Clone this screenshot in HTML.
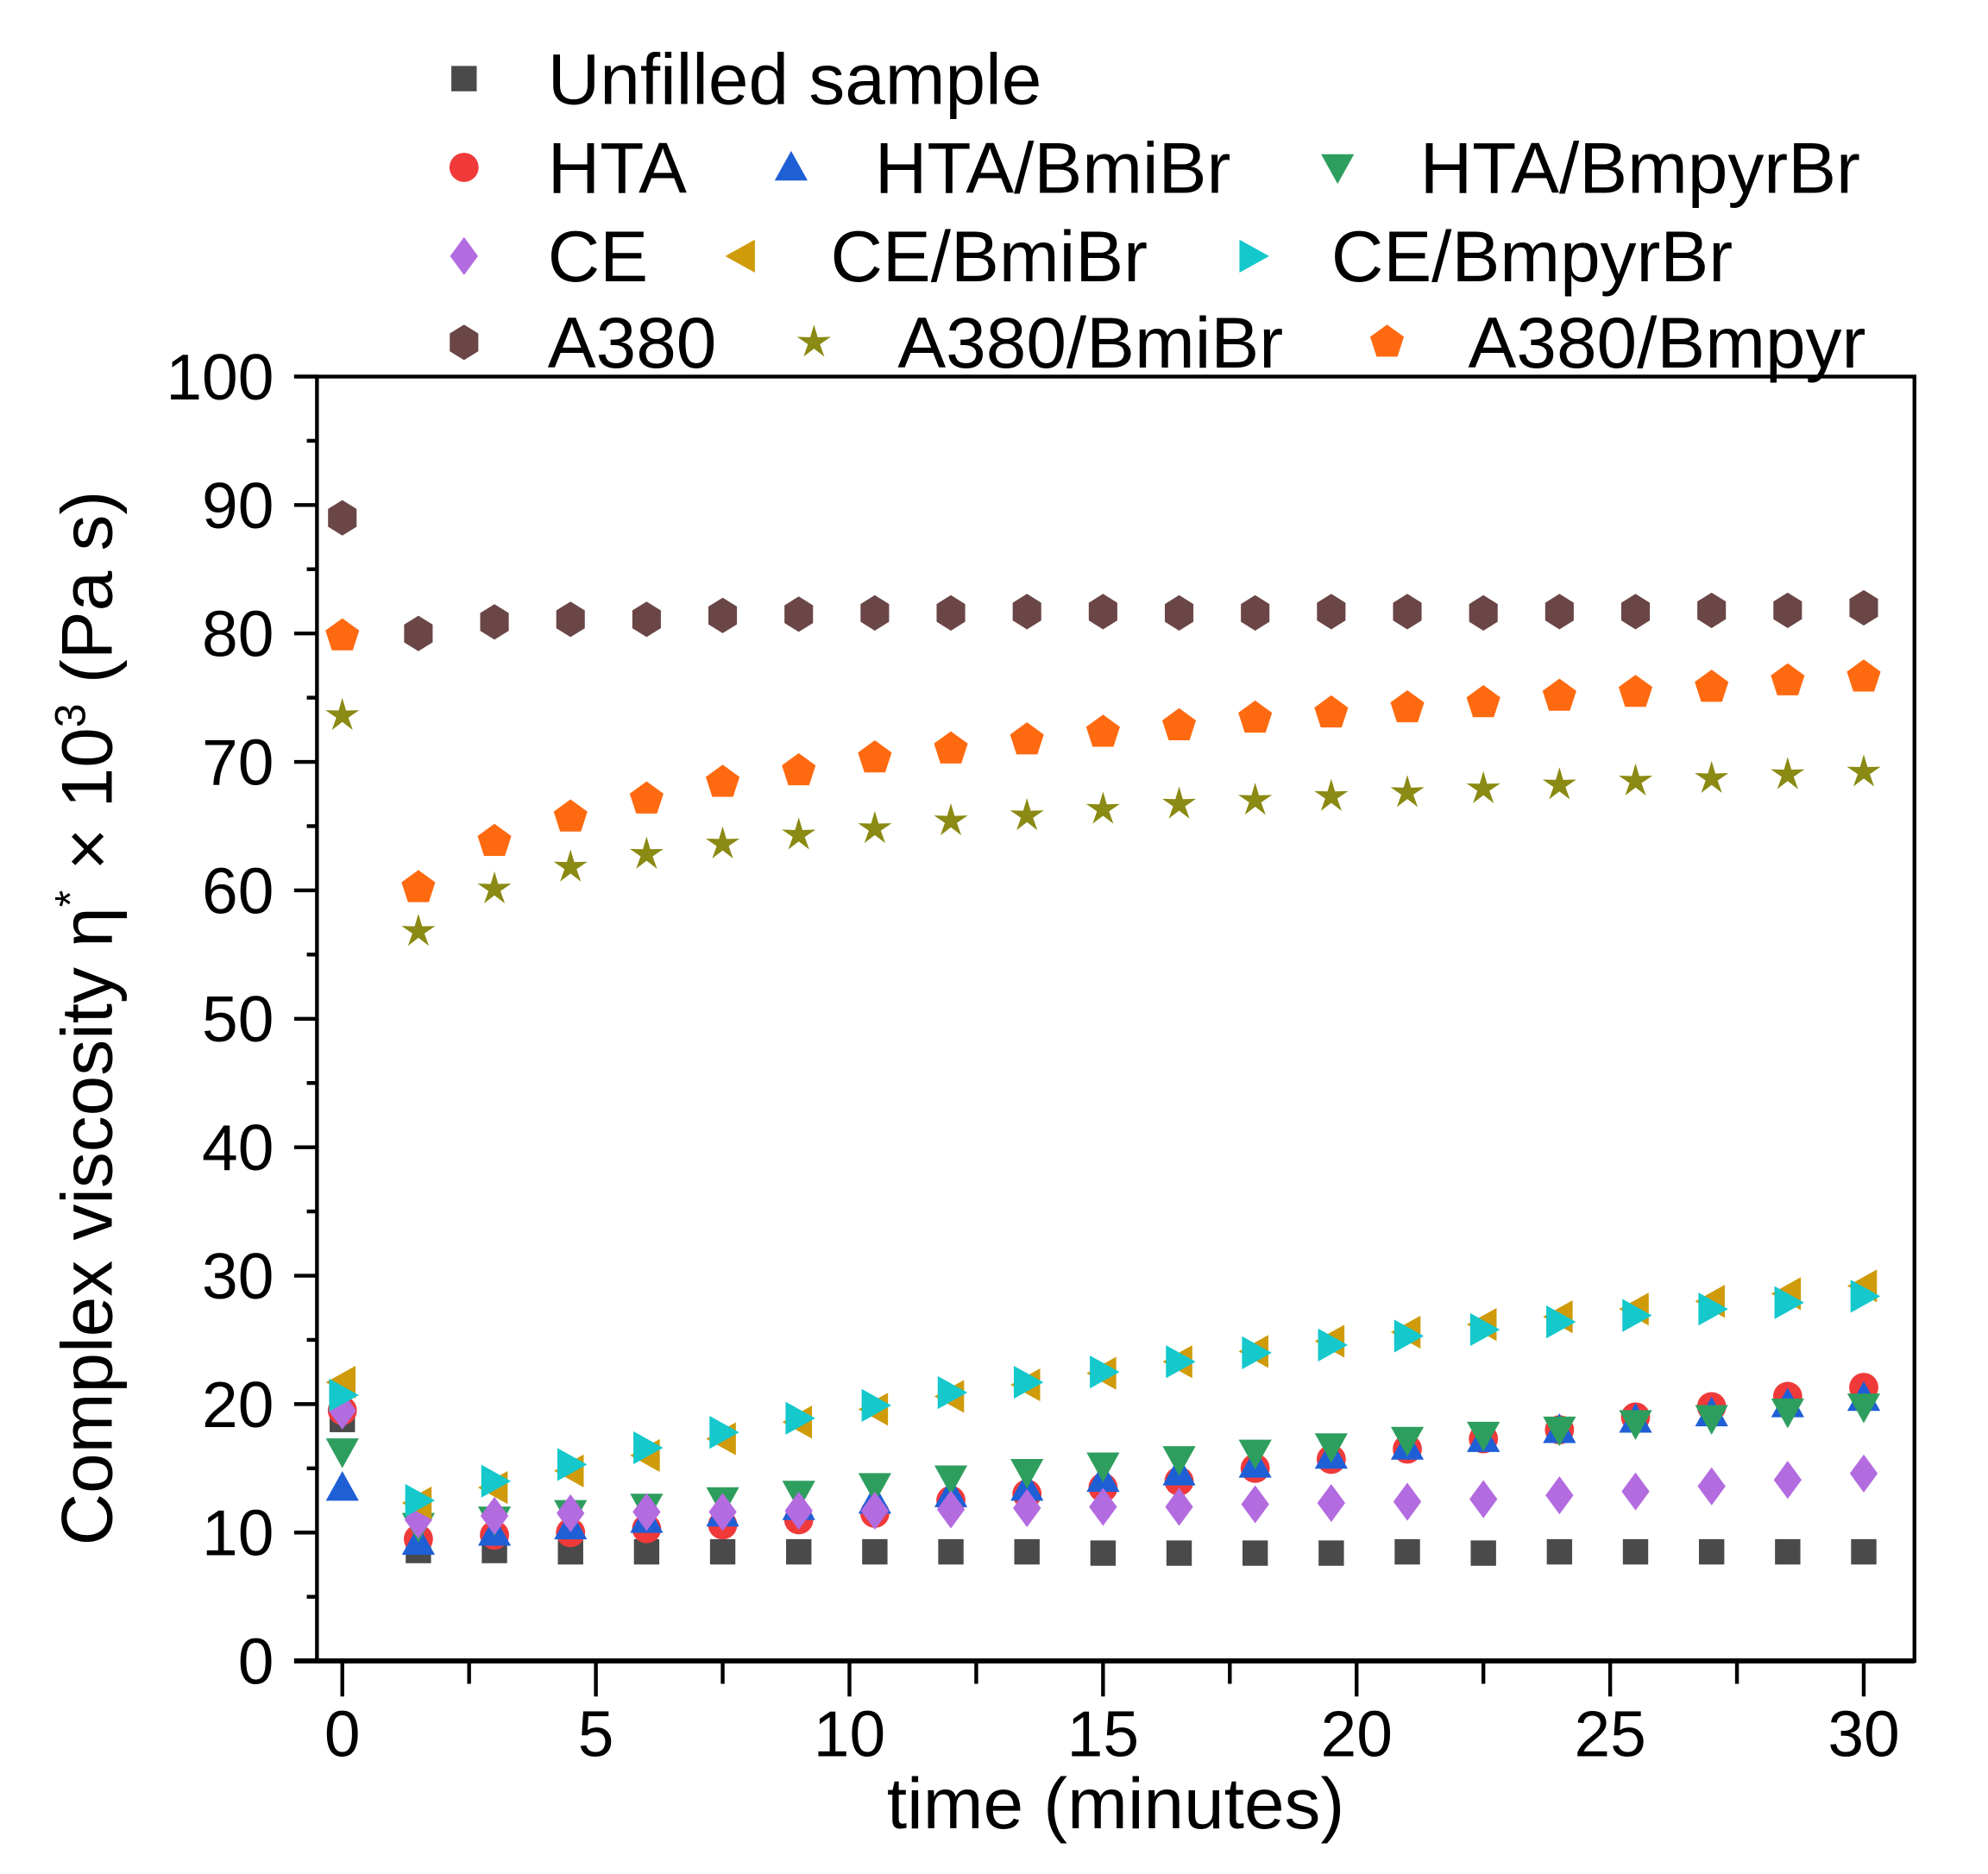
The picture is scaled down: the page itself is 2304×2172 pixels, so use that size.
<!DOCTYPE html>
<html><head><meta charset="utf-8">
<style>
html,body{margin:0;padding:0;background:#fff;}
svg{display:block;font-family:"Liberation Sans",Arial,sans-serif;}
</style></head>
<body>
<svg id="chart" width="2304" height="2172" viewBox="0 0 1568 1478" preserveAspectRatio="none" xmlns="http://www.w3.org/2000/svg">
<g id="axes"></g>
<g id="marks"></g>
<g id="legend"></g>
<text transform="translate(88,803) rotate(-90)" text-anchor="middle" font-size="57" fill="#000">Complex viscosity η<tspan dy="-21" font-size="34">*</tspan><tspan dy="21"> × 10</tspan><tspan dy="-21" font-size="34">3</tspan><tspan dy="21"> (Pa s)</tspan></text>
<text x="880" y="1442" text-anchor="middle" font-size="57" fill="#000">time (minutes)</text>
</svg>
<script>
const times = [0,1.5,3,4.5,6,7.5,9,10.5,12,13.5,15,16.5,18,19.5,21,22.5,24,25.5,27,28.5,30];
const xTicks = [0,5,10,15,20,25,30];
const yTicks = [0,10,20,30,40,50,60,70,80,90,100];
const unfilled = [18.8,8.6,8.6,8.5,8.5,8.5,8.5,8.5,8.5,8.5,8.4,8.4,8.4,8.4,8.5,8.4,8.5,8.5,8.5,8.5,8.5];
const hta = [19.5,9.5,9.8,10,10.3,10.6,11,11.5,12.5,13,13.5,14,15,15.7,16.5,17.3,18,19,19.8,20.6,21.3];
const htaBmi = [13.5,9.3,10,10.5,11,11.5,12,12.5,13,13.5,14.2,14.7,15.3,16,16.7,17.3,18,18.8,19.3,20,20.5];
const htaBmpyr = [16.3,10.5,11,11.5,12,12.5,13,13.6,14.2,14.7,15.2,15.7,16.2,16.7,17.2,17.6,18,18.5,18.9,19.4,19.8];
const ce = [19.5,11,11.3,11.5,11.6,11.6,11.7,11.7,11.8,11.9,12,12,12.2,12.3,12.4,12.6,12.9,13.2,13.6,14.1,14.6];
const ceBmi = [21.7,12.3,13.5,14.8,16,17.3,18.6,19.6,20.6,21.5,22.4,23.3,24.1,24.9,25.6,26.2,26.8,27.4,28,28.6,29.2];
const ceBmpyr = [20.7,12.5,14,15.3,16.6,17.8,18.9,19.9,20.9,21.7,22.5,23.3,24,24.6,25.3,25.8,26.4,26.9,27.4,27.9,28.4];
const a380 = [89,80,80.9,81.1,81.1,81.4,81.5,81.6,81.6,81.7,81.7,81.6,81.6,81.7,81.7,81.6,81.7,81.7,81.8,81.8,82];
const a380Bmi = [73.6,56.8,60.1,61.8,62.8,63.6,64.3,64.8,65.4,65.8,66.3,66.7,67,67.3,67.6,67.9,68.2,68.5,68.7,69,69.2];
const a380Bmpyr = [79.8,60.2,63.8,65.7,67.1,68.4,69.3,70.3,71,71.7,72.3,72.8,73.4,73.8,74.2,74.6,75.1,75.4,75.8,76.3,76.6];

const NS="http://www.w3.org/2000/svg";
const X0=250,X1=1510,Y0=297,Y1=1310;
const xs=t=>270+t*40;
const ys=v=>Y1-(v/100)*(Y1-Y0);
function mk(tag,attrs,parent){const e=document.createElementNS(NS,tag);for(const k in attrs)e.setAttribute(k,attrs[k]);parent.appendChild(e);return e;}
const axes=document.getElementById('axes');
let frame=mk('rect',{x:X0,y:Y0,width:X1-X0,height:Y1-Y0,fill:'none',stroke:'#000','stroke-width':3},axes);


mk('line',{x1:232,x2:X1,y1:Y1,y2:Y1,stroke:'#000','stroke-width':4},axes);
mk('line',{x1:232,x2:X0,y1:Y0,y2:Y0,stroke:'#000','stroke-width':3},axes);
yTicks.forEach(v=>{
  mk('line',{x1:232,x2:X0,y1:ys(v),y2:ys(v),stroke:'#000','stroke-width':3},axes);
  const t=mk('text',{x:216,y:ys(v)+18,'text-anchor':'end','font-size':51,fill:'#000'},axes);
  t.textContent=v;
  
  
  if(v<100) mk('line',{x1:242,x2:X0,y1:ys(v+5),y2:ys(v+5),stroke:'#000','stroke-width':3},axes);
});
xTicks.forEach(v=>{
  mk('line',{x1:xs(v),x2:xs(v),y1:Y1,y2:Y1+28,stroke:'#000','stroke-width':3},axes);
  if(v<30) mk('line',{x1:xs(v+2.5),x2:xs(v+2.5),y1:Y1,y2:Y1+18,stroke:'#000','stroke-width':3},axes);
  const t=mk('text',{x:xs(v),y:1385,'text-anchor':'middle','font-size':51,fill:'#000'},axes);
  t.textContent=v;
  
  
});

function shape(type,cx,cy,col,parent){
  const r=13;let e;
  if(type==='square') e=mk('rect',{x:cx-10,y:cy-10,width:20,height:20,fill:col},parent);
  else if(type==='circle') e=mk('circle',{cx:cx,cy:cy,r:11.5,fill:col},parent);
  else{
    let pts;
    if(type==='up') pts=[[0,-r],[r,r*0.8],[-r,r*0.8]];
    else if(type==='down') pts=[[0,r],[r,-r*0.8],[-r,-r*0.8]];
    else if(type==='left') pts=[[-r,0],[r*0.8,-r],[r*0.8,r]];
    else if(type==='right') pts=[[r,0],[-r*0.8,-r],[-r*0.8,r]];
    else if(type==='diamond') pts=[[0,-15],[11,0],[0,15],[-11,0]];
    else if(type==='hex'){pts=[];for(let i=0;i<6;i++){const a=Math.PI/6+i*Math.PI/3;pts.push([Math.cos(a)*13,Math.sin(a)*14]);}}
    else if(type==='pent'){pts=[];for(let i=0;i<5;i++){const a=-Math.PI/2+i*2*Math.PI/5;pts.push([Math.cos(a)*14,Math.sin(a)*14]);}}
    else if(type==='star'){pts=[];for(let i=0;i<10;i++){const a=-Math.PI/2+i*Math.PI/5;const rr=i%2?5:14;pts.push([Math.cos(a)*rr,Math.sin(a)*rr]);}}
    e=mk('polygon',{points:pts.map(p=>(cx+p[0])+','+(cy+p[1])).join(' '),fill:col},parent);
  }
  return e;
}
const series=[
 {name:'Unfilled sample',data:unfilled,type:'square',col:'#4a4a4a',id:'unfilled'},
 {name:'HTA',data:hta,type:'circle',col:'#f03a3a',id:'hta'},
 {name:'HTA/BmiBr',data:htaBmi,type:'up',col:'#1f5fd6',id:'hta-bmibr'},
 {name:'HTA/BmpyrBr',data:htaBmpyr,type:'down',col:'#2e9e5e',id:'hta-bmpyrbr'},
 {name:'CE',data:ce,type:'diamond',col:'#b36be0',id:'ce'},
 {name:'CE/BmiBr',data:ceBmi,type:'left',col:'#cf9b0a',id:'ce-bmibr'},
 {name:'CE/BmpyrBr',data:ceBmpyr,type:'right',col:'#14c8cc',id:'ce-bmpyrbr'},
 {name:'A380',data:a380,type:'hex',col:'#6b4646',id:'a380'},
 {name:'A380/BmiBr',data:a380Bmi,type:'star',col:'#8a8a14',id:'a380-bmibr'},
 {name:'A380/Bmpyr',data:a380Bmpyr,type:'pent',col:'#ff6a10',id:'a380-bmpyr'}
];
const marks=document.getElementById('marks');
series.forEach(s=>{
  const g=mk('g',{},marks);
  
  
  s.data.forEach((v,i)=>{
    const e=shape(s.type,xs(times[i]),ys(v),s.col,g);
    
    
  });
});
const legPos=[[366,432,62],[366,432,132],[624,690,132],[1055,1120,132],[366,432,202],[585,655,202],[988,1050,202],[366,432,270],[642,708,270],[1094,1158,270]];
const leg=document.getElementById('legend');
series.forEach((s,i)=>{
  const p=legPos[i];
  const g=mk('g',{},leg);
  
  
  shape(s.type,p[0],p[2],s.col,g);
  const t=mk('text',{x:p[1],y:p[2]+20,'font-size':57,fill:'#000'},g);
  t.textContent=s.name;
});
</script>
</body></html>
